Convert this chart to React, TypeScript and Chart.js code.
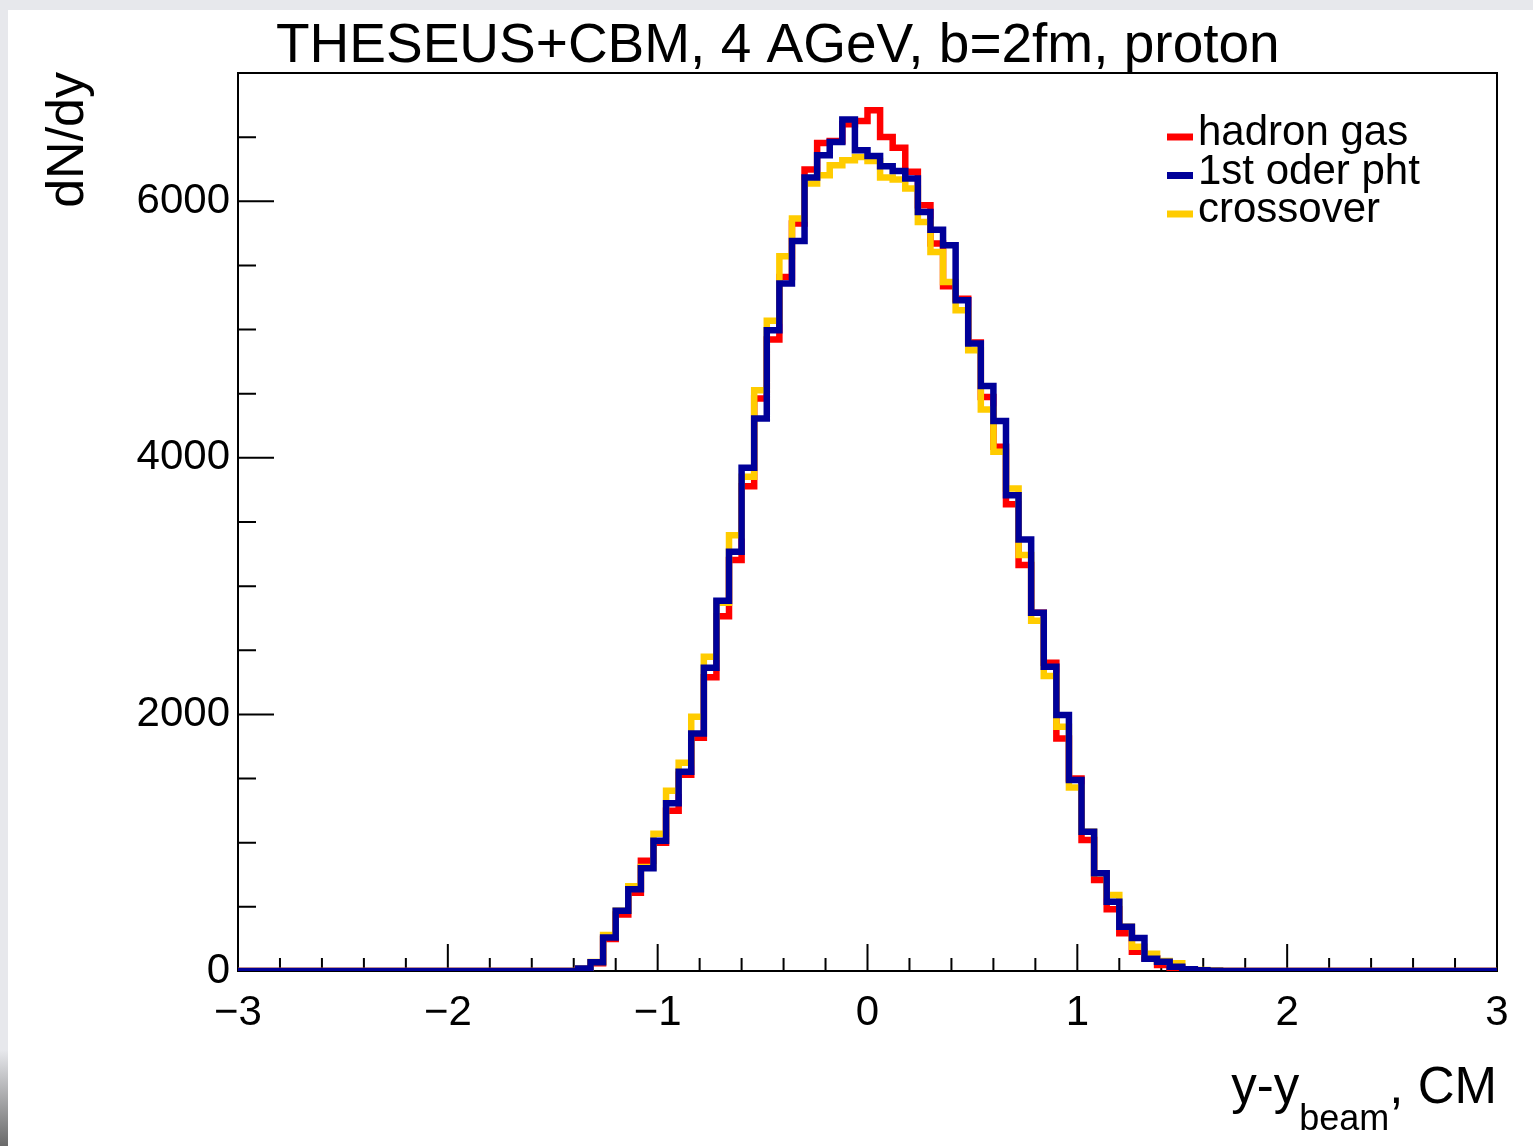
import React, { useEffect, useRef } from 'react';
import { Chart, registerables } from 'chart.js';

Chart.register(...registerables);

// ---- histogram binning ----
const X_MIN = -3;
const X_MAX = 3;
const N_BINS = 100;
const BIN_WIDTH = 0.06;
const FIRST_BIN = 27; // index of first listed bin

// ---- series values (dN/dy per bin, bins 27..77) ----
const HADRON_GAS = [
  15, 60, 250, 440, 610, 860, 1000, 1249, 1530, 1818,
  2289, 2766, 3203, 3779, 4463, 4922, 5410, 5826, 6247, 6455,
  6470, 6600, 6626, 6709, 6501, 6418, 6230, 5969, 5670, 5338,
  5240, 4900, 4475, 4086, 3639, 3164, 2792, 2402, 1813, 1500,
  1021, 709, 481, 294, 150, 100, 47, 25, 10, 4,
  1,
];
const FIRST_ORDER = [
  20, 68, 262, 470, 637, 800, 1015, 1307, 1553, 1852,
  2364, 2886, 3268, 3922, 4307, 4995, 5360, 5691, 6185, 6359,
  6463, 6637, 6398, 6353, 6273, 6236, 6177, 5917, 5779, 5657,
  5229, 4891, 4561, 4288, 3709, 3364, 2792, 2371, 1995, 1488,
  1086, 761, 540, 345, 258, 95, 73, 34, 13, 5,
  2,
];
const CROSSOVER = [
  18, 70, 280, 470, 660, 810, 1070, 1405, 1623, 1982,
  2450, 2870, 3397, 3852, 4527, 5068, 5572, 5865, 6138, 6203,
  6281, 6320, 6345, 6314, 6185, 6169, 6099, 5839, 5605, 5371,
  5151, 4839, 4377, 4047, 3761, 3242, 2730, 2299, 1904, 1431,
  1086, 761, 592, 345, 190, 135, 78, 60, 10, 8,
  3,
];

const SERIES_LABELS = ['hadron gas', '1st oder pht', 'crossover'];
const SERIES_COLORS = ['#ff0000', '#000099', '#ffcc00'];

// ---- axes ----
const X_MAJOR = [-3, -2, -1, 0, 1, 2, 3];
const X_TICK_LABELS = ['\u22123', '\u22122', '\u22121', '0', '1', '2', '3'];
const Y_MAJOR = [0, 2000, 4000, 6000];
const Y_TICK_LABELS = ['0', '2000', '4000', '6000'];
const Y_MIN = 0;
const Y_MAX = 7000;

const TITLE = 'THESEUS+CBM, 4 AGeV, b=2fm, proton';
const Y_TITLE = 'dN/dy';
const X_TITLE_MAIN = 'y-y';
const X_TITLE_SUB = 'beam';
const X_TITLE_TAIL = ', CM';

const FONT = '"Liberation Sans", Arial, Helvetica, sans-serif';

function histPoints(vals: number[]) {
  const pts: { x: number; y: number }[] = [];
  for (let k = 0; k < N_BINS; k++) {
    const idx = k - FIRST_BIN;
    const v = idx >= 0 && idx < vals.length ? vals[idx] : 0;
    pts.push({ x: X_MIN + k * BIN_WIDTH, y: v });
  }
  pts.push({ x: X_MAX, y: 0 });
  return pts;
}

function matchIndex(list: number[], v: number) {
  for (let i = 0; i < list.length; i++) if (Math.abs(list[i] - v) < 1e-6) return i;
  return -1;
}

const rootPlugin = {
  id: 'rootStyle',
  beforeDraw(chart: any) {
    const { ctx, width, height } = chart;
    ctx.save();
    ctx.fillStyle = '#ffffff';
    ctx.fillRect(0, 0, width, height);
    ctx.fillStyle = '#e7e8ec';
    ctx.fillRect(0, 0, width, 10);
    ctx.fillRect(0, 0, 8, height);
    const g = ctx.createLinearGradient(0, 1050, 0, height);
    g.addColorStop(0, '#e7e8ec');
    g.addColorStop(1, '#6a6a6a');
    ctx.fillStyle = g;
    ctx.fillRect(0, 1050, 8, height - 1050);
    ctx.restore();
  },
  beforeDatasetsDraw(chart: any) {
    const { ctx, chartArea } = chart;
    const xs = chart.scales.x;
    const ys = chart.scales.y;
    ctx.save();
    ctx.strokeStyle = '#000';
    ctx.lineWidth = 2;
    ctx.strokeRect(chartArea.left, chartArea.top, chartArea.right - chartArea.left, chartArea.bottom - chartArea.top);
    ctx.beginPath();
    for (const t of xs.ticks) {
      const px = xs.getPixelForValue(t.value);
      const len = matchIndex(X_MAJOR, t.value) >= 0 ? 27 : 13;
      ctx.moveTo(px, chartArea.bottom);
      ctx.lineTo(px, chartArea.bottom - len);
    }
    for (const t of ys.ticks) {
      const py = ys.getPixelForValue(t.value);
      const len = matchIndex(Y_MAJOR, t.value) >= 0 ? 36 : 18;
      ctx.moveTo(chartArea.left, py);
      ctx.lineTo(chartArea.left + len, py);
    }
    ctx.stroke();
    ctx.restore();
  },
  afterDraw(chart: any) {
    const { ctx, chartArea } = chart;
    ctx.save();
    ctx.fillStyle = '#000';
    // title
    ctx.font = `55px ${FONT}`;
    ctx.textAlign = 'left';
    ctx.textBaseline = 'alphabetic';
    ctx.fillText(TITLE, 276, 62);

    // y title
    ctx.save();
    ctx.translate(83, chartArea.top - 1);
    ctx.rotate(-Math.PI / 2);
    ctx.font = `52px ${FONT}`;
    ctx.textAlign = 'right';
    ctx.fillText(Y_TITLE, 0, 0);
    ctx.restore();

    // x title (right aligned to frame)
    ctx.textAlign = 'left';
    const mainF = `51px ${FONT}`;
    const subF = `36px ${FONT}`;
    ctx.font = mainF;
    const w1 = ctx.measureText(X_TITLE_MAIN).width;
    const w3 = ctx.measureText(X_TITLE_TAIL).width;
    ctx.font = subF;
    const w2 = ctx.measureText(X_TITLE_SUB).width;
    let x0 = chartArea.right - (w1 + w2 + w3);
    const base = 1103;
    ctx.font = mainF;
    ctx.fillText(X_TITLE_MAIN, x0, base);
    x0 += w1;
    ctx.font = subF;
    ctx.fillText(X_TITLE_SUB, x0, base + 27);
    x0 += w2;
    ctx.font = mainF;
    ctx.fillText(X_TITLE_TAIL, x0, base);

    // legend
    ctx.font = `42px ${FONT}`;
    const baselines = [145, 183.5, 222];
    for (let i = 0; i < SERIES_LABELS.length; i++) {
      const b = baselines[i];
      ctx.strokeStyle = SERIES_COLORS[i];
      ctx.lineWidth = 7;
      ctx.beginPath();
      ctx.moveTo(1167, b - 8);
      ctx.lineTo(1193, b - 8);
      ctx.stroke();
      ctx.fillText(SERIES_LABELS[i], 1198, b);
    }
    ctx.restore();
  },
};

export default function App() {
  const ref = useRef<HTMLCanvasElement | null>(null);
  useEffect(() => {
    document.body.style.margin = '0';
    document.body.style.overflow = 'hidden';
    const canvas = ref.current!;
    const mk = (label: string, vals: number[], color: string, order: number) => ({
      label,
      data: histPoints(vals),
      borderColor: color,
      backgroundColor: color,
      borderWidth: 6.5,
      pointRadius: 0,
      stepped: 'before' as const,
      fill: false,
      borderJoinStyle: 'miter' as const,
      borderCapStyle: 'butt' as const,
      order,
    });
    const chart = new Chart(canvas, {
      type: 'line',
      data: {
        datasets: [
          mk(SERIES_LABELS[0], HADRON_GAS, SERIES_COLORS[0], 2),
          mk(SERIES_LABELS[1], FIRST_ORDER, SERIES_COLORS[1], 0),
          mk(SERIES_LABELS[2], CROSSOVER, SERIES_COLORS[2], 1),
        ],
      },
      options: {
        animation: false,
        responsive: false,
        devicePixelRatio: 1,
        layout: { padding: { top: 73, right: 36, left: 0, bottom: 0 } },
        plugins: { legend: { display: false }, tooltip: { enabled: false }, title: { display: false } },
        scales: {
          x: {
            type: 'linear',
            min: X_MIN,
            max: X_MAX,
            grid: { display: false },
            border: { display: false },
            ticks: {
              stepSize: 0.2,
              autoSkip: false,
              maxRotation: 0,
              minRotation: 0,
              padding: 9,
              color: '#000',
              font: { family: FONT, size: 42 },
              callback: (v: any) => {
                const i = matchIndex(X_MAJOR, Number(v));
                return i >= 0 ? X_TICK_LABELS[i] : '';
              },
            },
            afterFit: (s: any) => { s.height = 175; },
          },
          y: {
            type: 'linear',
            min: Y_MIN,
            max: Y_MAX,
            grid: { display: false },
            border: { display: false },
            ticks: {
              stepSize: 500,
              autoSkip: false,
              padding: 0,
              color: '#000',
              font: { family: FONT, size: 42 },
              callback: (v: any) => {
                const i = matchIndex(Y_MAJOR, Number(v));
                return i >= 0 ? Y_TICK_LABELS[i] : '';
              },
            },
            afterFit: (s: any) => { s.width = 238; },
          },
        },
      },
      plugins: [rootPlugin],
    });
    return () => chart.destroy();
  }, []);
  return <canvas ref={ref} width={1533} height={1146} style={{ display: 'block' }} />;
}
